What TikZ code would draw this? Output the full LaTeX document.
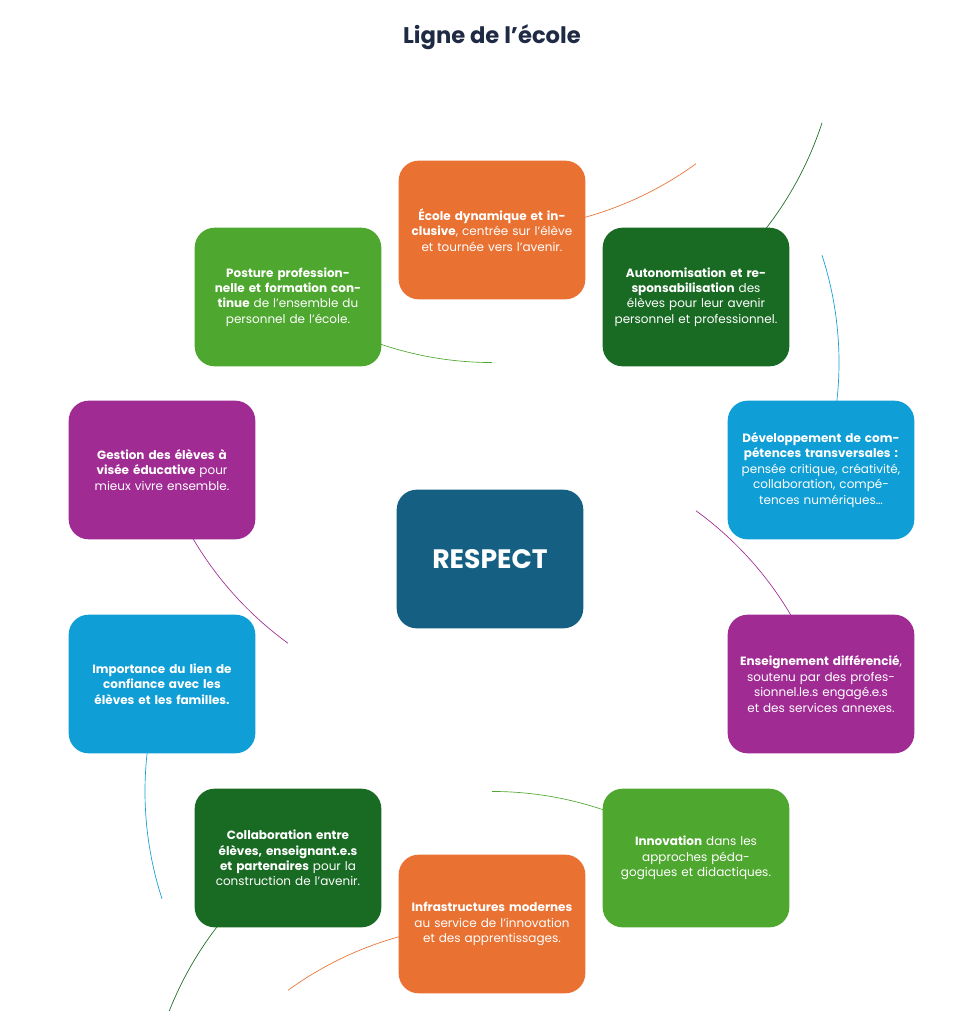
\documentclass[tikz,border=0pt]{standalone}
\usepackage{fontspec}
\setmainfont{Poppins}
\definecolor{cor}{HTML}{E97132}
\definecolor{cdg}{HTML}{196B24}
\definecolor{cbl}{HTML}{0F9ED5}
\definecolor{cpu}{HTML}{A02B93}
\definecolor{cgr}{HTML}{4EA72E}
\definecolor{cce}{HTML}{156082}
\definecolor{ctitle}{HTML}{1F2A44}
\begin{document}
\begin{tikzpicture}[x=0.75pt,y=-0.75pt,
  box/.style={rounded corners=15pt,minimum width=140pt,minimum height=104pt,text width=126pt,align=center,text=white,font=\fontsize{9}{11.6}\selectfont,inner sep=0pt},
  conn/.style={line width=0.5pt}]
\useasboundingbox (0,0) rectangle (976,1011);
\node[font=\bfseries\fontsize{17}{20}\selectfont,text=ctitle] (title) at (492,37) {Ligne de l’école};
\foreach \a/\c in {90/cor,54/cdg,18/cbl,-18/cpu,-54/cgr,-90/cor,-126/cdg,-162/cbl,-198/cpu,-234/cgr}{
  \draw[conn,\c] (492,577) ++(\a:347 and -347) arc[start angle=\a,end angle=\a-36,radius=347];
}
\node[box,fill=cor] (n1) at (492,230) {\textbf{École dynamique et inclusive}, centrée sur l’élève et tournée vers l’avenir.};
\node[box,fill=cdg] (n2) at (696,297) {\textbf{Autonomisation et responsabilisation} des élèves pour leur avenir personnel et professionnel.};
\node[box,fill=cbl] (n3) at (821,470) {\textbf{Développement de compétences transversales :} pensée critique, créativité, collaboration, compétences numériques…};
\node[box,fill=cpu] (n4) at (821,684) {\textbf{Enseignement différencié}, soutenu par des professionnel.le.s engagé.e.s et des services annexes.};
\node[box,fill=cgr] (n5) at (696,858) {\textbf{Innovation} dans les approches pédagogiques et didactiques.};
\node[box,fill=cor] (n6) at (492,924) {\textbf{Infrastructures modernes} au service de l'innovation et des apprentissages.};
\node[box,fill=cdg] (n7) at (288,858) {\textbf{Collaboration entre élèves, enseignant.e.s et partenaires} pour la construction de l’avenir.};
\node[box,fill=cbl] (n8) at (162,684) {\textbf{Importance du lien de confiance avec les élèves et les familles.}};
\node[box,fill=cpu] (n9) at (162,470) {\textbf{Gestion des élèves à visée éducative} pour mieux vivre ensemble.};
\node[box,fill=cgr] (n10) at (288,297) {\textbf{Posture professionnelle et formation continue} de l'ensemble du personnel de l'école.};
\node[box,fill=cce,font=\bfseries\fontsize{20}{24}\selectfont] (c) at (490,559) {RESPECT};
\end{tikzpicture}
\end{document}
